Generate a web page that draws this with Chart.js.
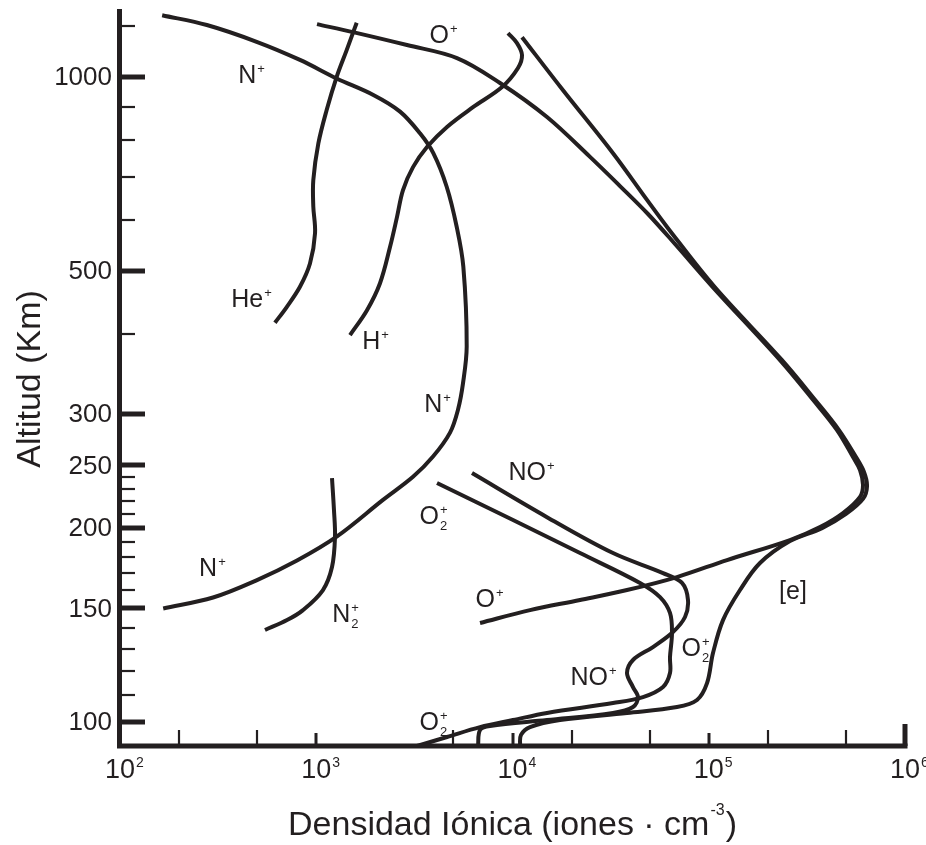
<!DOCTYPE html>
<html lang="es">
<head>
<meta charset="UTF-8">
<title>Densidad iónica vs altitud</title>
<script src="https://cdn.jsdelivr.net/npm/chart.js"></script>
<style>
  html, body { margin: 0; padding: 0; background: #fff; }
  #wrap { width: 926px; height: 845px; }
</style>
</head>
<body>
<div id="wrap"><canvas id="ionChart" width="926" height="845"></canvas></div>
<script>
// valores: densidad (iones/cm3) y altitud (km)
const nPlusDens = [164, 277, 497, 826, 1271, 1954, 2673, 3378, 3949, 4620, 5195, 5617, 5843, 5594, 5275, 4805, 3936, 3112, 2188, 1276, 798, 499, 298, 166];
const nPlusAlt  = [1247, 1204, 1134, 1063, 995, 938, 884, 818, 762, 676, 586, 508, 382, 335, 305, 281, 258, 240, 221, 194, 178, 166, 156, 150];

const hePlusDens = [1607, 1429, 1271, 1130, 1025, 966, 966, 986, 929, 826, 707, 616];
const hePlusAlt  = [1214, 1101, 1001, 889, 789, 692, 630, 573, 514, 473, 440, 416];

const hPlusDens = [9487, 10541, 11180, 10667, 8844, 6291, 4637, 3667, 3112, 2767, 2580, 2376, 2113, 1814, 1486];
const hPlusAlt  = [1170, 1129, 1082, 1033, 965, 898, 837, 779, 725, 668, 607, 545, 479, 435, 398];

const oPlusDens = [1009, 1539, 2900, 5213, 8637, 14990, 24830, 35300, 49020, 67300, 105100, 230700, 339800, 450300, 543400, 589900, 611000, 589900, 483200, 369000, 259400, 123900, 68890, 38320, 22080, 12280, 6831];
const oPlusAlt  = [1208, 1174, 1121, 1070, 979, 867, 752, 677.6, 613.3, 551, 472, 364, 316, 283.6, 257.5, 245.9, 233, 223.4, 210.9, 200.6, 191.5, 178.3, 167.8, 160.2, 154.6, 149.1, 142.4];

const elecDens = [11180, 18090, 32520, 48460, 61990, 107600, 236200, 347900, 460900, 562800, 618100, 640500, 611000, 500400, 377700, 259400, 182400, 144300, 118200, 105100, 98000, 87130, 68890, 38320, 17460, 12280, 11050, 10920];
const elecAlt  = [1153, 954, 762, 645, 583, 472, 364, 316, 283.6, 257.5, 244.2, 232.2, 221.8, 210.2, 199.8, 190.8, 176.4, 160.2, 143.9, 127.9, 114.9, 108.2, 105.5, 103.3, 100.7, 98.2, 95.5, 91.8];

const noPlusDens = [6218, 14990, 32520, 58470, 73070, 78380, 75690, 65740, 51970, 41110, 38320, 41110, 43600, 41110, 32520, 14990, 7680, 6831, 6673];
const noPlusAlt  = [243.2, 207.8, 182.8, 170.2, 164.3, 154.6, 145.5, 137.9, 130.7, 124.8, 119.1, 113.3, 109.3, 105.5, 103.3, 100.7, 98.6, 97.2, 91.8];

const o2PlusDens = [4124, 10060, 22080, 44630, 56450, 63460, 64960, 63460, 63460, 58470, 46240, 32520, 14990, 10060, 6831, 4637, 3262];
const o2PlusAlt  = [234.7, 205.7, 182.8, 164.3, 156.2, 147.6, 137.4, 126.1, 119.1, 113.3, 109.3, 107.0, 103.3, 100.7, 98.2, 94.8, 91.8];

const n2PlusDens = [1203, 1231, 1246, 1203, 1082, 856, 710, 548];
const n2PlusAlt  = [238.9, 213.2, 193.6, 173.9, 160.2, 149.1, 143.9, 138.9];

// ejes
const xMin = 1e2, xMax = 1e6;
const yMin = 91.8, yMax = 1275;
const xMajorTicks = [1e3, 1e4, 1e5, 1e6];
const xTickExps = ['2', '3', '4', '5', '6'];
const xLabelTicks = [1e2, 1e3, 1e4, 1e5, 1e6];
const xMinorTicks = [200, 500, 5000, 20000, 50000, 200000, 500000];
const yMajorTicks = [100, 150, 200, 250, 300, 500, 1000];
const yMinorTicks = [110, 120, 130, 140, 160, 170, 180, 190, 210, 220, 230, 240, 400, 600, 700, 800, 900, 1200];

// rótulos de las curvas (posición en unidades de los datos)
const curveLabels = [
  { text: 'O', sup: '+', x: 4426, y: 1166 },
  { text: 'N', sup: '+', x: 465, y: 1011 },
  { text: 'He', sup: '+', x: 465, y: 454 },
  { text: 'H', sup: '+', x: 1993, y: 391 },
  { text: 'N', sup: '+', x: 4124, y: 312 },
  { text: 'N', sup: '+', x: 294, y: 174 },
  { text: 'N', sub: '2', sup: '+', x: 1402, y: 147.6 },
  { text: 'O', sub: '2', sup: '+', x: 3935, y: 209.4 },
  { text: 'NO', sup: '+', x: 12420, y: 245 },
  { text: 'O', sup: '+', x: 7590, y: 155.7 },
  { text: 'O', sub: '2', sup: '+', x: 85100, y: 130.7 },
  { text: 'NO', sup: '+', x: 25710, y: 117.8 },
  { text: 'O', sub: '2', sup: '+', x: 3935, y: 100.4 },
  { text: '[e]', x: 268700, y: 160.2 }
];

const ink = '#231f20';
const face = '"Liberation Sans", Arial, sans-serif';

const series = [
  [nPlusDens, nPlusAlt], [hePlusDens, hePlusAlt], [hPlusDens, hPlusAlt],
  [oPlusDens, oPlusAlt], [elecDens, elecAlt], [noPlusDens, noPlusAlt],
  [o2PlusDens, o2PlusAlt], [n2PlusDens, n2PlusAlt]
];

const axesPlugin = {
  id: 'ionAxes',
  afterDatasetsDraw(chart) {
    const { ctx, chartArea: a, scales: { x, y } } = chart;
    ctx.save();
    ctx.strokeStyle = ink;
    ctx.fillStyle = ink;

    // ticks eje Y (hacia dentro)
    yMinorTicks.forEach(v => {
      const py = Math.round(y.getPixelForValue(v));
      ctx.lineWidth = 2.2;
      ctx.beginPath(); ctx.moveTo(a.left, py); ctx.lineTo(a.left + 15, py); ctx.stroke();
    });
    yMajorTicks.forEach(v => {
      const py = Math.round(y.getPixelForValue(v));
      ctx.lineWidth = 5;
      ctx.beginPath(); ctx.moveTo(a.left, py); ctx.lineTo(a.left + 25, py); ctx.stroke();
    });

    // ticks eje X
    xMinorTicks.forEach(v => {
      const px = Math.round(x.getPixelForValue(v));
      ctx.lineWidth = 2.2;
      ctx.beginPath(); ctx.moveTo(px, a.bottom); ctx.lineTo(px, a.bottom - 16); ctx.stroke();
    });
    xMajorTicks.forEach(v => {
      const px = Math.round(x.getPixelForValue(v));
      const last = v === xMax;
      ctx.lineWidth = last ? 5 : 3;
      ctx.beginPath(); ctx.moveTo(px, a.bottom); ctx.lineTo(px, a.bottom - (last ? 22 : 13)); ctx.stroke();
    });

    // líneas de los ejes
    ctx.lineWidth = 5;
    ctx.beginPath();
    ctx.moveTo(a.left - 0.5, a.top); ctx.lineTo(a.left - 0.5, a.bottom + 2.5);
    ctx.moveTo(a.left - 3, a.bottom); ctx.lineTo(a.right + 2.5, a.bottom);
    ctx.stroke();

    // etiquetas eje Y
    ctx.font = '26px ' + face;
    ctx.textAlign = 'right';
    ctx.textBaseline = 'middle';
    yMajorTicks.forEach(v => {
      ctx.fillText(String(v), a.left - 8, y.getPixelForValue(v) + 1);
    });

    // etiquetas eje X: 10 con exponente
    ctx.textBaseline = 'alphabetic';
    ctx.textAlign = 'left';
    xLabelTicks.forEach((v, i) => {
      const px = x.getPixelForValue(v);
      ctx.font = '27px ' + face;
      const w = ctx.measureText('10').width;
      ctx.fillText('10', px - w / 2, a.bottom + 32);
      ctx.font = '14px ' + face;
      ctx.fillText(xTickExps[i], px + w / 2 + 1, a.bottom + 21);
    });

    // título eje X
    const pre = 'Densidad Iónica (iones · cm', sup = '-3', post = ')';
    ctx.font = '34px ' + face;
    const wPre = ctx.measureText(pre).width, wPost = ctx.measureText(post).width;
    ctx.font = '16px ' + face;
    const wSup = ctx.measureText(sup).width;
    let tx = (a.left + a.right) / 2 - (wPre + wSup + wPost + 2) / 2;
    const tb = 835;
    ctx.font = '34px ' + face;
    ctx.fillText(pre, tx, tb);
    ctx.font = '16px ' + face;
    ctx.fillText(sup, tx + wPre + 1, tb - 20);
    ctx.font = '34px ' + face;
    ctx.fillText(post, tx + wPre + wSup + 2, tb);

    // título eje Y
    ctx.save();
    ctx.translate(40, 379);
    ctx.rotate(-Math.PI / 2);
    ctx.textAlign = 'center';
    ctx.fillText('Altitud (Km)', 0, 0);
    ctx.restore();

    // rótulos de las curvas
    ctx.textAlign = 'left';
    curveLabels.forEach(l => {
      const px = x.getPixelForValue(l.x), py = y.getPixelForValue(l.y);
      ctx.font = '25px ' + face;
      const wm = ctx.measureText(l.text).width;
      ctx.font = '13px ' + face;
      const ws = Math.max(l.sub ? ctx.measureText(l.sub).width : 0, l.sup ? ctx.measureText(l.sup).width : 0);
      const left = px - (wm + ws) / 2;
      const base = py + 9;
      ctx.font = '25px ' + face;
      ctx.fillText(l.text, left, base);
      ctx.font = '13px ' + face;
      if (l.sup) ctx.fillText(l.sup, left + wm + 1, base - 10);
      if (l.sub) ctx.fillText(l.sub, left + wm + 1, base + 6);
    });

    ctx.restore();
  }
};

new Chart(document.getElementById('ionChart'), {
  type: 'scatter',
  data: {
    datasets: series.map(([dens, alt]) => ({
      data: dens.map((d, i) => ({ x: d, y: alt[i] })),
      showLine: true,
      borderColor: ink,
      borderWidth: 4,
      borderJoinStyle: 'round',
      pointRadius: 0,
      tension: 0.35,
      fill: false
    }))
  },
  options: {
    responsive: false,
    animation: false,
    devicePixelRatio: 1,
    layout: { padding: { left: 120, right: 21, top: 9, bottom: 99 } },
    plugins: { legend: { display: false }, tooltip: { enabled: false } },
    scales: {
      x: { type: 'logarithmic', min: xMin, max: xMax, display: false },
      y: { type: 'logarithmic', min: yMin, max: yMax, display: false }
    }
  },
  plugins: [axesPlugin]
});
</script>
</body>
</html>
